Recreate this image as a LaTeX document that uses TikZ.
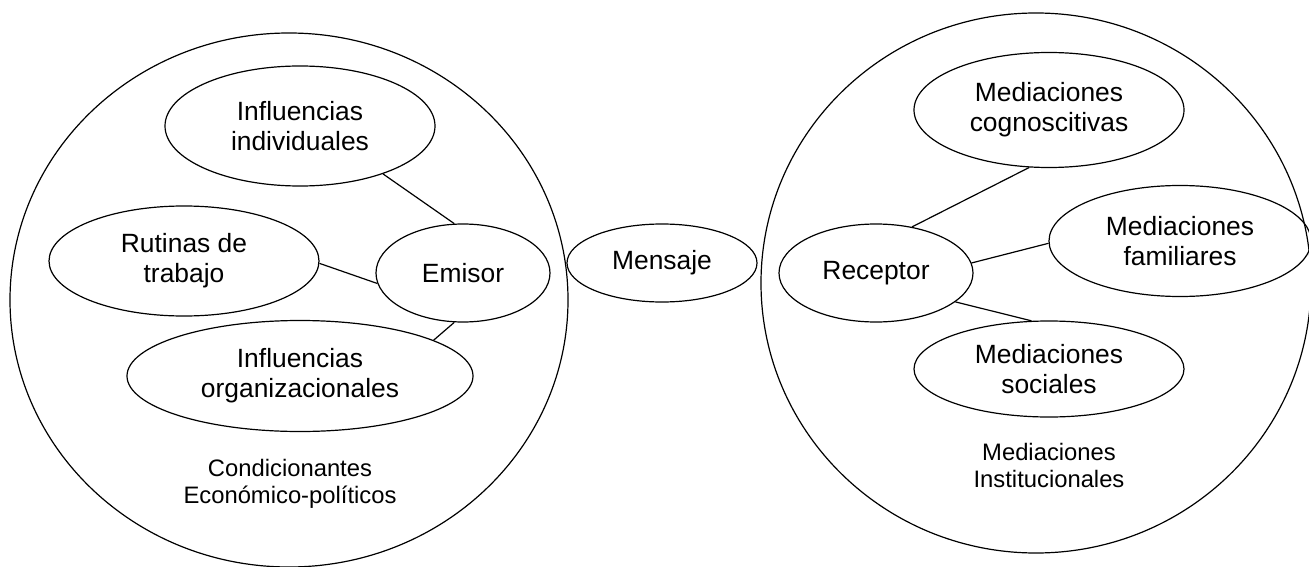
\documentclass[tikz,border=0pt]{standalone}
\usepackage{fontspec}
\setmainfont{Liberation Sans}
\usetikzlibrary{shapes.geometric}
\begin{document}
\begin{tikzpicture}[x=1pt,y=-1pt,
  el/.style={draw, ellipse, line width=1.2pt, inner sep=0pt, align=center,
    font=\fontsize{26.4}{30}\selectfont},
  big/.style={draw, ellipse, line width=1.2pt, inner sep=0pt},
  lbl/.style={align=center, font=\fontsize{23.8}{27}\selectfont},
  link/.style={line width=1.2pt}]
\useasboundingbox (0,0) rectangle (1309,567);
% container circles
\node[big, minimum width=558pt, minimum height=534pt] (leftc) at (289,300) {};
\node[big, minimum width=550pt, minimum height=540pt] (rightc) at (1036,283) {};
% left side
\node[el, minimum width=270pt, minimum height=120pt] (indiv) at (300,126) {Influencias\\individuales};
\node[el, minimum width=270pt, minimum height=110pt] (rutinas) at (184,261) {Rutinas de\\trabajo};
\node[el, minimum width=174pt, minimum height=98pt] (emisor) at (463,273) {Emisor};
\node[el, minimum width=346pt, minimum height=111pt] (org) at (300,376) {Influencias\\organizacionales};
\node[lbl] (cond) at (290,484) {Condicionantes\\Económico-políticos};
% middle
\node[el, minimum width=190pt, minimum height=78pt] (mensaje) at (662,263) {Mensaje};
% right side
\node[el, minimum width=194pt, minimum height=98pt] (receptor) at (876,273) {Receptor};
\node[el, minimum width=270pt, minimum height=115pt] (cogn) at (1049,110) {Mediaciones\\cognoscitivas};
\node[el, minimum width=262pt, minimum height=111pt] (fam) at (1180,241) {Mediaciones\\familiares};
\node[el, minimum width=270pt, minimum height=96pt] (soc) at (1049,369) {Mediaciones\\sociales};
\node[lbl] (inst) at (1049,465) {Mediaciones\\Institucionales};
% connectors
\draw[link] (indiv.-30) -- (emisor.100);
\draw[link] (rutinas.-1) -- (emisor.187);
\draw[link] (org.15) -- (emisor.260);
\draw[link] (cogn.251) -- (receptor.52);
\draw[link] (receptor.6) -- (fam.181);
\draw[link] (receptor.-20) -- (soc.110);
\end{tikzpicture}
\end{document}
